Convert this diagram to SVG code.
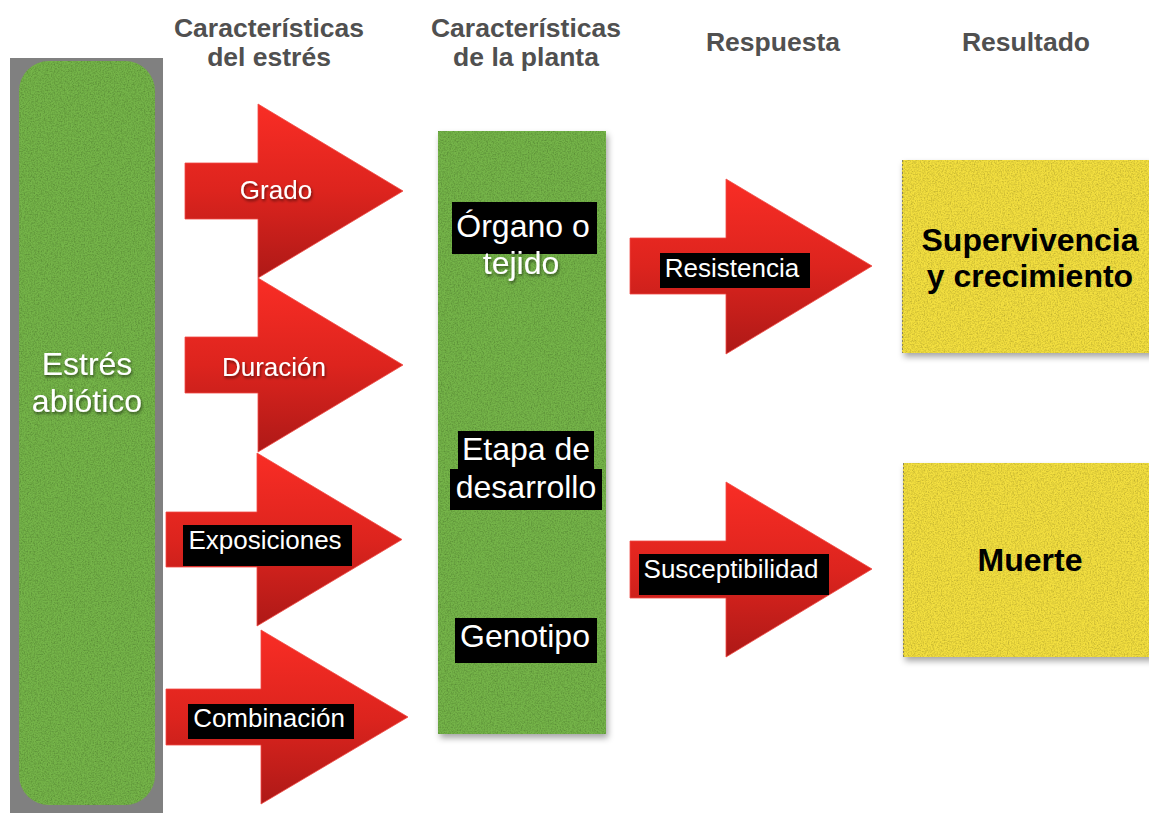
<svg xmlns="http://www.w3.org/2000/svg" width="1149" height="813" viewBox="0 0 1149 813">
<defs>
  <linearGradient id="red" x1="0" y1="0" x2="0" y2="1">
    <stop offset="0" stop-color="#f92d25"/>
    <stop offset="0.5" stop-color="#dd241e"/>
    <stop offset="1" stop-color="#ae1917"/>
  </linearGradient>
  <filter id="grain" x="0" y="0" width="100%" height="100%">
    <feTurbulence type="fractalNoise" baseFrequency="0.7" numOctaves="3" seed="4" result="t"/>
    <feColorMatrix in="t" type="matrix" values="0 0 0 0 0  0 0 0 0 0  0 0 0 0 0  0.8 0 0 0 -0.3" result="d"/>
    <feComposite in="d" in2="SourceGraphic" operator="in" result="dd"/>
    <feMerge><feMergeNode in="SourceGraphic"/><feMergeNode in="dd"/></feMerge>
  </filter>
  <filter id="shadow" x="-10%" y="-10%" width="130%" height="130%">
    <feDropShadow dx="2" dy="4" stdDeviation="3" flood-color="#000" flood-opacity="0.35"/>
  </filter>
  <filter id="tshadow" x="-20%" y="-30%" width="140%" height="170%">
    <feDropShadow dx="1" dy="2" stdDeviation="1.5" flood-color="#000" flood-opacity="0.55"/>
  </filter>
  <style>
    .hdr{font-family:"Liberation Sans",Arial,Helvetica,sans-serif;font-weight:bold;font-size:26.5px;fill:#505050;text-anchor:middle}
    .lbl{font-family:"Liberation Sans",Arial,Helvetica,sans-serif;font-size:26px;fill:#fff;text-anchor:middle}
    .big{font-family:"Liberation Sans",Arial,Helvetica,sans-serif;font-size:32px;fill:#fff;text-anchor:middle}
    .res{font-family:"Liberation Sans",Arial,Helvetica,sans-serif;font-weight:bold;font-size:32px;fill:#000;text-anchor:middle}
    .arrow{fill:url(#red);stroke:#f04a44;stroke-width:0.8}
    .green{fill:#75b449}
    .yellow{fill:#f3df40}
    .box{fill:#000}
  </style>
</defs>
<rect width="1149" height="813" fill="#fff"/>

<g id="headers">
  <text class="hdr" x="269" y="37">Características</text>
  <text class="hdr" x="269" y="66">del estrés</text>
  <text class="hdr" x="526" y="37">Características</text>
  <text class="hdr" x="526" y="66">de la planta</text>
  <text class="hdr" x="773" y="51">Respuesta</text>
  <text class="hdr" x="1026" y="51">Resultado</text>
</g>

<g id="estres-abiotico">
  <rect x="10" y="58" width="153" height="755" fill="#808080"/>
  <rect class="green" x="19" y="61" width="136" height="744" rx="30" filter="url(#grain)"/>
  <g filter="url(#tshadow)">
    <text class="big" x="87" y="375">Estrés</text>
    <text class="big" x="87" y="412">abiótico</text>
  </g>
</g>

<g id="caracteristicas-planta">
  <rect class="green" x="438" y="131" width="168" height="603" filter="url(#shadow)"/>
  <rect class="green" x="438" y="131" width="168" height="603" filter="url(#grain)"/>
  <rect class="box" x="452" y="202" width="145" height="52"/>
  <text class="big" x="523" y="237">Órgano o</text>
  <text class="big" x="521" y="274" filter="url(#tshadow)">tejido</text>
  <rect class="box" x="458" y="431" width="136" height="39"/>
  <rect class="box" x="450" y="469" width="152" height="41"/>
  <text class="big" x="526" y="460">Etapa de</text>
  <text class="big" x="526" y="498">desarrollo</text>
  <rect class="box" x="455" y="618" width="142" height="45"/>
  <text class="big" x="525" y="647">Genotipo</text>
</g>

<g id="supervivencia">
  <rect class="yellow" x="902" y="160" width="260" height="193" filter="url(#shadow)"/>
  <rect class="yellow" x="902" y="160" width="260" height="193" filter="url(#grain)"/>
  <line x1="902.5" y1="160" x2="902.5" y2="353" stroke="#666" stroke-width="1" stroke-dasharray="2 2" opacity="0.7"/>
  <text class="res" x="1030" y="251">Supervivencia</text>
  <text class="res" x="1030" y="287">y crecimiento</text>
</g>

<g id="muerte">
  <rect class="yellow" x="903" y="463" width="260" height="194" filter="url(#shadow)"/>
  <rect class="yellow" x="903" y="463" width="260" height="194" filter="url(#grain)"/>
  <line x1="903.5" y1="463" x2="903.5" y2="657" stroke="#666" stroke-width="1" stroke-dasharray="2 2" opacity="0.7"/>
  <text class="res" x="1030" y="571">Muerte</text>
</g>

<g id="connectors">
  <g id="arrow-grado">
    <polygon class="arrow" points="185,163 258,163 258,104 403,191 258,278 258,219 185,219"/>
    <text class="lbl" x="276" y="199" filter="url(#tshadow)">Grado</text>
  </g>
  <g id="arrow-duracion">
    <polygon class="arrow" points="185,337 258,337 258,278 403,365 258,452 258,393 185,393"/>
    <text class="lbl" x="274" y="376" filter="url(#tshadow)">Duración</text>
  </g>
  <g id="arrow-exposiciones">
    <polygon class="arrow" points="166,512 257,512 257,453 402,539.5 257,626 257,567 166,567"/>
    <rect class="box" x="183" y="525" width="169" height="41"/>
    <text class="lbl" x="265" y="549">Exposiciones</text>
  </g>
  <g id="arrow-combinacion">
    <polygon class="arrow" points="166,689 261,689 261,630 408,717 261,804 261,745 166,745"/>
    <rect class="box" x="188" y="704" width="166" height="35"/>
    <text class="lbl" x="269" y="727">Combinación</text>
  </g>
  <g id="arrow-resistencia">
    <polygon class="arrow" points="630,238 726,238 726,179 872,266 726,354 726,294 630,294"/>
    <rect class="box" x="660" y="253" width="150" height="35"/>
    <text class="lbl" x="732" y="277">Resistencia</text>
  </g>
  <g id="arrow-susceptibilidad">
    <polygon class="arrow" points="630,541 726,541 726,482 872,569 726,657 726,598 630,598"/>
    <rect class="box" x="639" y="554" width="190" height="41"/>
    <text class="lbl" x="731" y="578">Susceptibilidad</text>
  </g>
</g>
</svg>
